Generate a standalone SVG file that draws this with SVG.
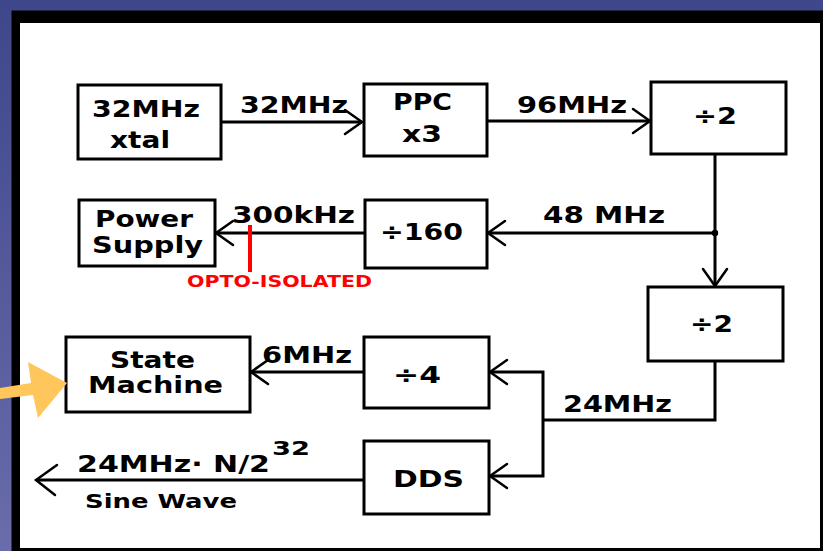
<svg xmlns="http://www.w3.org/2000/svg" width="823" height="551" viewBox="0 0 823 551">
<defs>
<linearGradient id="bg" x1="0" y1="0" x2="0" y2="1">
<stop offset="0" stop-color="#3e4789"/>
<stop offset="1" stop-color="#6a6cab"/>
</linearGradient>
<marker id="arr" markerUnits="userSpaceOnUse" viewBox="-22 -22 44 44" markerWidth="44" markerHeight="44" refX="0" refY="0" orient="auto">
<path d="M-17 -12 L0 0 L-17 12" fill="none" stroke="#000" stroke-width="2.5" stroke-linecap="round"/>
</marker>
<marker id="arrBig" markerUnits="userSpaceOnUse" viewBox="-24 -24 48 48" markerWidth="48" markerHeight="48" refX="0" refY="0" orient="auto">
<path d="M-19 -15 L0 0 L-21 15" fill="none" stroke="#000" stroke-width="2.5" stroke-linecap="round"/>
</marker>
</defs>
<style>
.box{fill:#fff;stroke:#000;stroke-width:3}
.t{font-family:"DejaVu Sans","Verdana",sans-serif;font-size:23px;font-weight:bold;fill:#000}
.s{font-family:"DejaVu Sans","Verdana",sans-serif;font-size:20px;font-weight:bold;fill:#000}
.red{font-family:"DejaVu Sans","Verdana",sans-serif;font-size:15px;font-weight:bold;fill:#ff0000}
.c{fill:none;stroke:#000;stroke-width:3}
</style>
<rect x="0" y="0" width="823" height="551" fill="url(#bg)"/>
<rect x="11.5" y="10.5" width="811.5" height="540.5" fill="#000"/>
<rect x="20" y="23" width="800" height="525" fill="#fff"/>

<g id="connectors">
<path class="c" d="M221 122 H362" marker-end="url(#arr)"/>
<path class="c" d="M487 121 H650" marker-end="url(#arr)"/>
<path class="c" d="M715 154 V286" marker-end="url(#arr)"/>
<path class="c" d="M715 233 H488" marker-end="url(#arr)"/>
<path class="c" d="M365 233 H216" marker-end="url(#arr)"/>
<circle cx="715" cy="233" r="3.2" fill="#000"/>
<path class="c" d="M715 361 V420 H543"/>
<path class="c" d="M543 420 V372 H490" marker-end="url(#arr)"/>
<path class="c" d="M543 420 V476 H490" marker-end="url(#arr)"/>
<path class="c" d="M364 372 H251" marker-end="url(#arr)"/>
<path class="c" d="M364 480 H36" marker-end="url(#arrBig)"/>
<line x1="250" y1="225" x2="250" y2="272" stroke="#ff0000" stroke-width="4"/>
<text class="t" x="240" y="113" textLength="108" lengthAdjust="spacingAndGlyphs">32MHz</text>
<text class="t" x="517" y="112.5" textLength="110" lengthAdjust="spacingAndGlyphs">96MHz</text>
<text class="t" x="543" y="223" textLength="122" lengthAdjust="spacingAndGlyphs">48 MHz</text>
<text class="t" x="232" y="223" textLength="123" lengthAdjust="spacingAndGlyphs">300kHz</text>
<text class="red" x="187" y="287" textLength="185" lengthAdjust="spacingAndGlyphs">OPTO-ISOLATED</text>
<text class="t" x="262" y="363" textLength="90" lengthAdjust="spacingAndGlyphs">6MHz</text>
<text class="t" x="563" y="412" textLength="109" lengthAdjust="spacingAndGlyphs">24MHz</text>
<text class="t" x="77" y="471.5" textLength="193" lengthAdjust="spacingAndGlyphs">24MHz· N/2</text>
<text class="s" x="272" y="455" textLength="38" lengthAdjust="spacingAndGlyphs">32</text>
<text class="s" x="85" y="508" textLength="152" lengthAdjust="spacingAndGlyphs">Sine Wave</text>
</g>

<g id="xtal">
<rect class="box" x="78" y="85" width="143" height="74"/>
<text class="t" x="92" y="116.5" textLength="108" lengthAdjust="spacingAndGlyphs">32MHz</text>
<text class="t" x="110" y="148" textLength="60" lengthAdjust="spacingAndGlyphs">xtal</text>
</g>
<g id="ppc">
<rect class="box" x="364" y="84" width="123" height="72"/>
<text class="t" x="393" y="110" textLength="59" lengthAdjust="spacingAndGlyphs">PPC</text>
<text class="t" x="402" y="141.5" textLength="40" lengthAdjust="spacingAndGlyphs">x3</text>
</g>
<g id="div2a">
<rect class="box" x="651" y="82" width="135" height="72"/>
<text class="t" x="693" y="124" textLength="44" lengthAdjust="spacingAndGlyphs">÷2</text>
</g>
<g id="power">
<rect class="box" x="79" y="200" width="136" height="66"/>
<text class="t" x="95" y="226.5" textLength="98" lengthAdjust="spacingAndGlyphs">Power</text>
<text class="t" x="92" y="252.5" textLength="111" lengthAdjust="spacingAndGlyphs">Supply</text>
</g>
<g id="div160">
<rect class="box" x="365" y="200" width="122" height="68"/>
<text class="t" x="380" y="240" textLength="83" lengthAdjust="spacingAndGlyphs">÷160</text>
</g>
<g id="div2b">
<rect class="box" x="648" y="287" width="135" height="74"/>
<text class="t" x="690" y="331.5" textLength="43" lengthAdjust="spacingAndGlyphs">÷2</text>
</g>
<g id="state">
<rect class="box" x="66" y="337" width="184" height="75"/>
<text class="t" x="110" y="368" textLength="85" lengthAdjust="spacingAndGlyphs">State</text>
<text class="t" x="88" y="393" textLength="135" lengthAdjust="spacingAndGlyphs">Machine</text>
</g>
<g id="div4">
<rect class="box" x="364" y="337" width="125" height="71"/>
<text class="t" x="393" y="383" textLength="48" lengthAdjust="spacingAndGlyphs">÷4</text>
</g>
<g id="dds">
<rect class="box" x="364" y="441" width="125" height="73"/>
<text class="t" x="393" y="487" textLength="71" lengthAdjust="spacingAndGlyphs">DDS</text>
</g>
<g id="pointer">
<polygon points="0,388 31,383 28,362 67,383 38,418 33,395 0,399" fill="#ffc65c"/>
</g>
</svg>
